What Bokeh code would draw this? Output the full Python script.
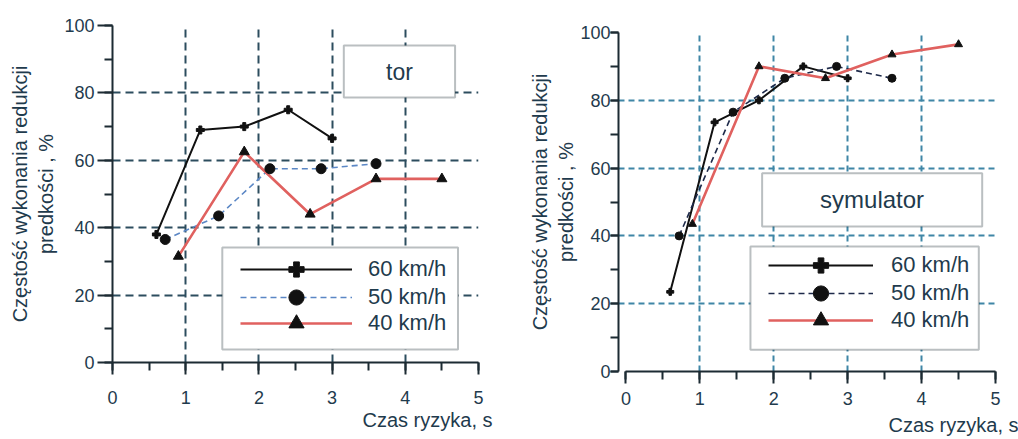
from bokeh.plotting import figure
from bokeh.layouts import row, column
from bokeh.models import (Range1d, SingleIntervalTicker, FixedTicker, Label,
                          BoxAnnotation, Legend, LegendItem, Title)
from bokeh.embed import file_html
from bokeh.resources import INLINE

# ---------------- data ----------------
series_labels = ["60 km/h", "50 km/h", "40 km/h"]
x_ticks = [0, 1, 2, 3, 4, 5]
y_ticks = [0, 20, 40, 60, 80, 100]

# panel "tor"
tor_60_x = [0.6, 1.2, 1.8, 2.4, 3.0]
tor_60_y = [38, 69, 70, 75, 66.5]
tor_50_x = [0.72, 1.45, 2.15, 2.85, 3.6]
tor_50_y = [36.5, 43.5, 57.5, 57.5, 59]
tor_40_x = [0.9, 1.8, 2.7, 3.6, 4.5]
tor_40_y = [31.5, 62.5, 44, 54.5, 54.5]

# panel "symulator"
sym_60_x = [0.6, 1.2, 1.8, 2.4, 3.0]
sym_60_y = [23.5, 73.5, 80, 90, 86.5]
sym_50_x = [0.72, 1.45, 2.15, 2.85, 3.6]
sym_50_y = [40, 76.5, 86.5, 90, 86.5]
sym_40_x = [0.9, 1.8, 2.7, 3.6, 4.5]
sym_40_y = [43.5, 90, 86.5, 93.5, 96.5]

panel_titles = ["tor", "symulator"]
y_title = "Częstość wykonania redukcji\npredkości , %"
x_title = "Czas ryzyka, s"

# ---------------- style ----------------
FONT = "Liberation Sans"
TXT = "#1f3b4d"
AX = "#1c2b33"
MK = "#111111"
RED = "#e0615f"


def style_axes(p, grid_color, grid_dash, ytick_out, xtick_out, xstand, ystand, ylab_stand):
    p.background_fill_color = "white"
    p.border_fill_color = "white"
    p.outline_line_color = None
    p.xaxis.ticker = SingleIntervalTicker(interval=1, num_minor_ticks=2)
    p.yaxis.ticker = SingleIntervalTicker(interval=20, num_minor_ticks=2)
    p.xgrid.ticker = FixedTicker(ticks=x_ticks[1:])
    p.ygrid.ticker = FixedTicker(ticks=y_ticks)
    for g in (p.xgrid, p.ygrid):
        g.grid_line_color = grid_color
        g.grid_line_dash = grid_dash
        g.grid_line_width = 2
    for ax in (p.xaxis, p.yaxis):
        ax.axis_line_color = AX
        ax.axis_line_width = 2
        ax.major_tick_line_color = AX
        ax.minor_tick_line_color = AX
        ax.major_tick_line_width = 2
        ax.minor_tick_line_width = 2
        ax.major_tick_in = 0
        ax.minor_tick_in = 0
        ax.major_label_text_font = FONT
        ax.major_label_text_font_size = "18px"
        ax.major_label_text_color = TXT
    p.xaxis.major_label_text_align = "left"
    p.yaxis.major_tick_out = ytick_out
    p.yaxis.minor_tick_out = 8
    p.xaxis.major_tick_out = xtick_out
    p.xaxis.minor_tick_out = 8
    p.xaxis.major_label_standoff = xstand
    p.yaxis.major_label_standoff = ystand
    p.yaxis.axis_label = y_title
    p.yaxis.axis_label_text_font = FONT
    p.yaxis.axis_label_text_font_size = "20px"
    p.yaxis.axis_label_text_font_style = "normal"
    p.yaxis.axis_label_text_color = TXT
    p.yaxis.axis_label_standoff = ylab_stand


def add_series(p, xs, ys, dash_color, msizes):
    l60 = p.line(xs[0], ys[0], line_color=MK, line_width=2)
    l50 = p.line(xs[1], ys[1], line_color=dash_color, line_width=1.6, line_dash="6 4")
    l40 = p.line(xs[2], ys[2], line_color=RED, line_width=2.6)
    s60 = p.scatter(xs[0], ys[0], marker="plus", size=msizes[0], color=MK)
    s50 = p.scatter(xs[1], ys[1], marker="circle", size=msizes[1], color=MK)
    s40 = p.scatter(xs[2], ys[2], marker="triangle", size=msizes[2], color=MK)
    return [[l60, s60], [l50, s50], [l40, s40]]


def add_legend(p, rends, xloc, ylocs, gw, stand):
    # one single-row legend per series so the legend markers can be large
    for i in range(3):
        leg = Legend(items=[LegendItem(label=series_labels[i], renderers=rends[i])],
                     location=(xloc, ylocs[i]), orientation="vertical",
                     glyph_width=gw, glyph_height=38, spacing=0, padding=0,
                     margin=0, label_standoff=stand, border_line_color=None,
                     background_fill_alpha=0, label_text_font=FONT,
                     label_text_font_size="22px", label_text_color=TXT)
        p.add_layout(leg)


def text_label(p, x, y, txt, size):
    p.add_layout(Label(x=x, y=y, text=txt, text_align="center",
                       text_baseline="middle", text_font=FONT,
                       text_font_size=size, text_color=TXT))


def x_title_below(p, offset, standoff):
    p.add_layout(Title(text=x_title, align="right", offset=offset, standoff=standoff,
                       text_font=FONT, text_font_size="20px",
                       text_font_style="normal", text_color=TXT), "below")


# ---------------- left panel: tor ----------------
p1 = figure(width=508, height=439, x_range=Range1d(0, 5), y_range=Range1d(0, 100),
            output_backend="svg", toolbar_location=None,
            min_border_left=112, min_border_right=30, min_border_top=25,
            min_border_bottom=77)
style_axes(p1, "#2c4d5e", "8 5", 15, 12, 16, 3, 4)
r1 = add_series(p1, [tor_60_x, tor_50_x, tor_40_x], [tor_60_y, tor_50_y, tor_40_y],
                "#5b87c5", [8, 10, 10])
p1.add_layout(BoxAnnotation(left=1.5, right=4.72, top=34.1, bottom=3.85,
                            fill_color="white", fill_alpha=1,
                            line_color=AX, line_width=2))
add_legend(p1, r1, 128, [74, 46, 20], 112, 16)
p1.add_layout(BoxAnnotation(left=3.16, right=4.68, top=94.1, bottom=78.6,
                            fill_color="white", fill_alpha=1,
                            line_color=AX, line_width=2))
text_label(p1, 3.92, 86.35, panel_titles[0], "23px")
x_title_below(p1, -14, 0)

# ---------------- right panel: symulator ----------------
p2 = figure(width=510, height=439, x_range=Range1d(-0.1, 5), y_range=Range1d(0, 100),
            output_backend="svg", toolbar_location=None,
            min_border_left=110, min_border_right=23, min_border_top=32,
            min_border_bottom=68)
style_axes(p2, "#3f86a6", "6 4", 8, 12, 8, 0, 0)
p2.xaxis.bounds = (0, 5)
r2 = add_series(p2, [sym_60_x, sym_50_x, sym_40_x], [sym_60_y, sym_50_y, sym_40_y],
                "#1e2a4a", [7, 8, 8])
p2.add_layout(BoxAnnotation(left=1.685, right=4.774, top=36.87, bottom=6.4,
                            fill_color="white", fill_alpha=1,
                            line_color=AX, line_width=2))
add_legend(p2, r2, 150, [87, 59, 32], 105, 18)
p2.add_layout(BoxAnnotation(left=1.843, right=4.82, top=58.5, bottom=42.8,
                            fill_color="white", fill_alpha=1,
                            line_color=AX, line_width=2))
text_label(p2, 3.33, 50.6, panel_titles[1], "24px")
x_title_below(p2, -23, 8)

layout = row(column(p1), column(p2))
open("out.html", "w").write(file_html(layout, INLINE))
